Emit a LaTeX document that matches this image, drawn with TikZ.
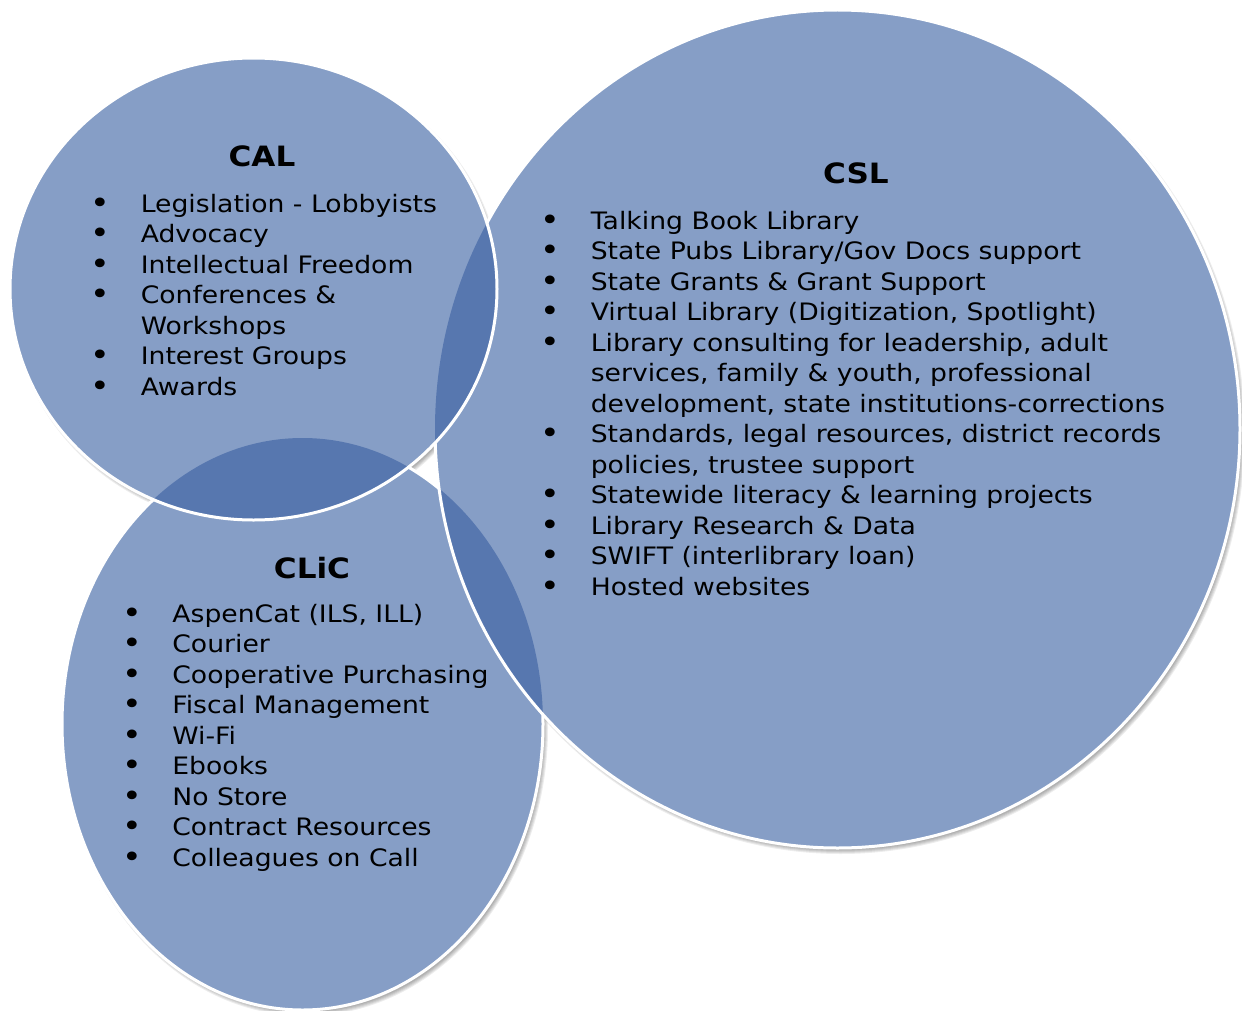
\documentclass[tikz,border=0pt]{standalone}
\usepackage{fontspec}
\setmainfont[FakeStretch=1.11]{DejaVu Sans}
\usepackage{xcolor}
\usetikzlibrary{matrix,positioning}

\definecolor{vennblue}{RGB}{134,158,198}
\definecolor{venndark}{RGB}{87,119,175}

\tikzset{
  venn/.style={fill=vennblue},
  vennedge/.style={draw=white, line width=1.5pt},
  lens/.style={fill=venndark},
  headtext/.style={font=\fontsize{14}{18}\selectfont\bfseries, anchor=base, inner sep=0pt},
  itemlist/.style={matrix of nodes, anchor=north west, inner sep=0pt,
                   row sep=0pt, column sep=0pt,
                   nodes={anchor=base west, inner sep=0pt,
                          text height=9.5pt, text depth=5.75pt,
                          font=\fontsize{12}{15}\selectfont},
                   column 1/.style={nodes={text width=22.5pt}}}
}
\newcommand{\bul}{\kern-2.5pt{\fontsize{15}{15}\selectfont\raisebox{-0.5pt}{\textbullet}}}

% the three circles
\def\calshape{(253.5,289) ellipse [x radius=243.5, y radius=231]}
\def\cslshape{(837.5,429) ellipse [x radius=402.5, y radius=419]}
\def\clicshape{(302.5,724) ellipse [x radius=240.5, y radius=286]}

\begin{document}
\begin{tikzpicture}[x=0.5pt,y=-0.5pt]
    \useasboundingbox (0,0) rectangle (1242,1011);

    % soft shadows
    \foreach \cx/\cy/\rx/\ry in {253.5/289/243.5/231, 837.5/429/402.5/419, 302.5/724/240.5/286}
      \foreach \k in {0,...,4}
        \fill[black, opacity=0.07] (\cx+3,\cy+4) ellipse [x radius=\rx+\k-2, y radius=\ry+\k-2];

    % CLiC
    \fill[venn] \clicshape;
    \draw[vennedge] \clicshape;

    % CSL
    \fill[venn] \cslshape;
    \begin{scope}
      \clip \cslshape;
      \fill[lens] \clicshape;
    \end{scope}
    \draw[vennedge] \cslshape;

    % CAL
    \fill[venn] \calshape;
    \begin{scope}
      \clip \calshape;
      \fill[lens] \cslshape;
      \fill[lens] \clicshape;
    \end{scope}
    \draw[vennedge] \calshape;

    % titles
    \node[headtext] (calhead) at (262,167) {CAL};
    \node[headtext] (cslhead) at (856,184) {CSL};
    \node[headtext] (clichead) at (312,578) {CLiC};

    % lists
    \matrix (callist) [itemlist] at (95,193)
    {
      \bul & Legislation - Lobbyists \\
      \bul & Advocacy \\
      \bul & Intellectual Freedom \\
      \bul & Conferences \& \\
           & Workshops \\
      \bul & Interest Groups \\
      \bul & Awards \\
    };

    \matrix (csllist) [itemlist] at (545,210)
    {
      \bul & Talking Book Library \\
      \bul & State Pubs Library/Gov Docs support \\
      \bul & State Grants \& Grant Support \\
      \bul & Virtual Library (Digitization, Spotlight) \\
      \bul & Library consulting for leadership, adult \\
           & services, family \& youth, professional \\
           & development, state institutions-corrections \\
      \bul & Standards, legal resources, district records \\
           & policies, trustee support \\
      \bul & Statewide literacy \& learning projects \\
      \bul & Library Research \& Data \\
      \bul & SWIFT (interlibrary loan) \\
      \bul & Hosted websites \\
    };

    \matrix (cliclist) [itemlist] at (127,603)
    {
      \bul & AspenCat (ILS, ILL) \\
      \bul & Courier \\
      \bul & Cooperative Purchasing \\
      \bul & Fiscal Management \\
      \bul & Wi-Fi \\
      \bul & Ebooks \\
      \bul & No Store \\
      \bul & Contract Resources \\
      \bul & Colleagues on Call \\
    };
\end{tikzpicture}
\end{document}
